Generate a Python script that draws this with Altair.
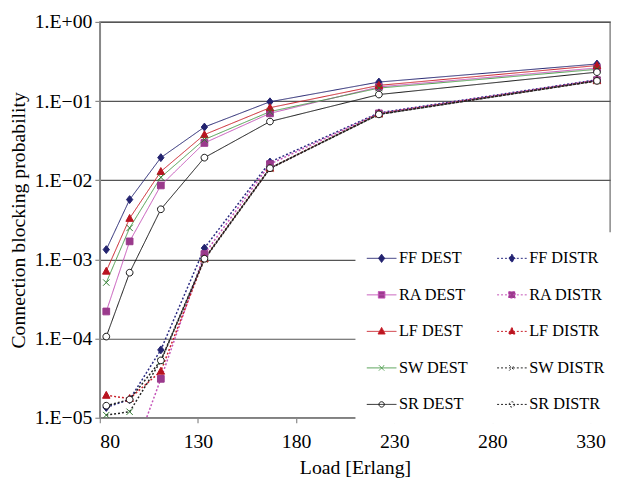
import altair as alt
import pandas as pd

# ---- data ----
load = [83.3, 95.2, 111.1, 133.3, 166.7, 222.2, 333.3]

ff_dest = [1.33e-3, 5.7e-3, 1.93e-2, 4.7e-2, 9.8e-2, 0.174, 0.294]
ra_dest = [2.2e-4, 1.69e-3, 8.6e-3, 2.96e-2, 7.0e-2, 0.151, 0.262]
lf_dest = [7.1e-4, 3.3e-3, 1.29e-2, 3.77e-2, 8.25e-2, 0.158, 0.281]
sw_dest = [5.1e-4, 2.5e-3, 1.09e-2, 3.27e-2, 7.36e-2, 0.146, 0.252]
sr_dest = [1.06e-4, 6.8e-4, 4.3e-3, 1.93e-2, 5.52e-2, 0.121, 0.232]

ff_distr = [1.35e-5, 1.7e-5, 7.2e-5, 1.39e-3, 1.7e-2, 7.1e-2, 0.186]
ra_distr = [2.0e-6, 2.6e-6, 3.1e-5, 1.17e-3, 1.6e-2, 7.0e-2, 0.184]
lf_distr = [1.92e-5, 1.75e-5, 3.87e-5, 1.02e-3, 1.42e-2, 6.9e-2, 0.181]
sw_distr = [1.08e-5, 1.19e-5, 5.2e-5, 1.0e-3, 1.41e-2, 6.8e-2, 0.180]
sr_distr = [1.42e-5, 1.7e-5, 5.3e-5, 1.02e-3, 1.42e-2, 6.8e-2, 0.180]

# legend fills column by column: DEST column first, then DISTR column
series_names = ["FF DEST", "RA DEST", "LF DEST", "SW DEST", "SR DEST",
                "FF DISTR", "RA DISTR", "LF DISTR", "SW DISTR", "SR DISTR"]
series_values = [ff_dest, ra_dest, lf_dest, sw_dest, sr_dest,
                 ff_distr, ra_distr, lf_distr, sw_distr, sr_distr]

x_ticks = [80, 130, 180, 230, 280, 330]
y_ticks = [1e-5, 1e-4, 1e-3, 1e-2, 1e-1, 1]
y_tick_labels = ["1.E\u221205", "1.E\u221204", "1.E\u221203", "1.E\u221202", "1.E\u221201", "1.E+00"]

# ---- styles ----
line_colors = ["#23236f", "#c452b8", "#c81e28", "#4a9a4a", "#111111",
               "#2a2a80", "#c452b8", "#c81e28", "#222222", "#222222"]
marker_fill = {"FF": "#23236f", "RA": "#9a3a8c", "LF": "#b81420", "SW": "transparent", "SR": "white"}
marker_stroke = {"FF": "#23236f", "RA": "#9a3a8c", "LF": "#b81420", "SW": "#2e7a2e", "SR": "#111111"}
algos = ["FF", "RA", "LF", "SW", "SR"]
marker_paths = [
    "M0,-1L0.8,0L0,1L-0.8,0Z",
    "M-0.85,-0.85H0.85V0.85H-0.85Z",
    "M0,-1L0.95,0.75H-0.95Z",
    "M-0.8,-0.8L0.8,0.8M-0.8,0.8L0.8,-0.8",
    "M0.85,0A0.85,0.85 0 1,1 -0.85,0A0.85,0.85 0 1,1 0.85,0Z",
]
legend_marks = {
    "FF": "M0,-0.28L0.21,0L0,0.28L-0.21,0Z",
    "RA": "M-0.22,-0.22H0.22V0.22H-0.22Z",
    "LF": "M0,-0.27L0.24,0.18H-0.24Z",
    "SW": "M-0.18,-0.18L0.18,0.18M-0.18,0.18L0.18,-0.18",
    "SR": "M0.18,0A0.18,0.18 0 1,1 -0.18,0A0.18,0.18 0 1,1 0.18,0Z",
}

rows = []
for name, vals in zip(series_names, series_values):
    algo, kind = name.split()
    for xv, yv in zip(load, vals):
        rows.append({"series": name, "algo": algo, "kind": kind, "load": xv, "p": yv})
df = pd.DataFrame(rows)

series_fill = [marker_fill[n.split()[0]] for n in series_names]
series_stroke = [marker_stroke[n.split()[0]] for n in series_names]

shape_expr = "".join(
    f"substring(datum.value,0,2)=='{a}' ? 'M-1,0H1{legend_marks[a]}' : " for a in algos
) + "'M-1,0H1'"
fill_expr = "".join(
    f"substring(datum.value,0,2)=='{a}' ? '{marker_fill[a]}' : " for a in algos
) + "'black'"
dash_expr = "indexof(datum.value,'DISTR')>=0 ? [2,2] : [1,0]"

label_expr = "[" + ",".join(f"'{l}'" for l in y_tick_labels) + "][round(log(datum.value)/LN10)+5]"

x_enc = alt.X("load:Q",
              scale=alt.Scale(domain=[80, 340], nice=False, zero=False),
              axis=alt.Axis(values=x_ticks, title="Load [Erlang]", grid=False,
                            labelPadding=9, titlePadding=6))
y_enc = alt.Y("p:Q",
              scale=alt.Scale(type="log", domain=[1e-5, 1], nice=False),
              axis=alt.Axis(values=y_ticks, labelExpr=label_expr,
                            title="Connection blocking probability", grid=True,
                            gridColor="#555555", gridWidth=1.2, labelPadding=3,
                            titlePadding=6))

base = alt.Chart(df)

lines = base.mark_line(clip=True).encode(
    x=x_enc, y=y_enc,
    color=alt.Color("series:N",
                    scale=alt.Scale(domain=series_names, range=line_colors),
                    legend=alt.Legend(
                        title=None, orient="none", legendX=259, legendY=213,
                        columns=2, columnPadding=26, rowPadding=13, padding=11,
                        fillColor="white", labelFont="Liberation Serif",
                        labelFontSize=16.5, labelColor="black", labelOffset=2,
                        symbolSize=900, symbolStrokeWidth=1,
                        symbolType={"expr": shape_expr},
                        symbolFillColor={"expr": fill_expr},
                        symbolDash={"expr": dash_expr},
                    )),
    strokeDash=alt.StrokeDash("kind:N",
                              scale=alt.Scale(domain=["DEST", "DISTR"], range=[[1, 0], [2, 2]]),
                              legend=None),
    strokeWidth=alt.StrokeWidth("kind:N",
                                scale=alt.Scale(domain=["DEST", "DISTR"], range=[1, 1.5]),
                                legend=None),
)

points = base.mark_point(clip=True, opacity=1, size=64, strokeWidth=1).encode(
    x=x_enc, y=y_enc,
    shape=alt.Shape("algo:N", scale=alt.Scale(domain=algos, range=marker_paths), legend=None),
    fill=alt.Fill("series:N", scale=alt.Scale(domain=series_names, range=series_fill), legend=None),
    stroke=alt.Stroke("series:N", scale=alt.Scale(domain=series_names, range=series_stroke), legend=None),
)

chart = alt.layer(lines, points).properties(
    width=517, height=401,
    autosize=alt.AutoSizeParams(type="none"),
    padding={"left": 93, "top": 11, "right": 9, "bottom": 63},
).configure_view(
    stroke="#888888", strokeWidth=1.5
).configure_axis(
    labelFont="Liberation Serif", labelFontSize=20, labelColor="black",
    titleFont="Liberation Serif", titleFontSize=20, titleFontWeight="normal",
    titleColor="black", domainColor="#888888", domainWidth=1.5,
    tickColor="#888888", tickSize=5, tickWidth=1.2,
)

chart.save("out.html", embed_options={"renderer": "svg", "actions": False})
